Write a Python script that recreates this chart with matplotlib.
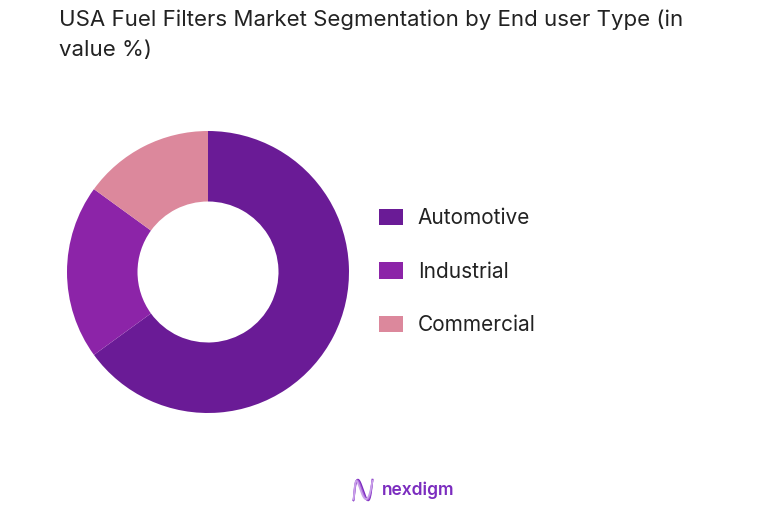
import numpy as np
import matplotlib
matplotlib.use("Agg")
import matplotlib.pyplot as plt
from matplotlib.patches import Patch

categories = ["Automotive", "Industrial", "Commercial"]
shares = [65, 20, 15]
colors = ["#6a1b96", "#8c24a8", "#dc889c"]
title = "USA Fuel Filters Market Segmentation by End user Type (in\nvalue %)"

W, H = 784, 511
fig = plt.figure(figsize=(W / 100, H / 100), dpi=100)
fig.patch.set_facecolor("white")
plt.rcParams["font.family"] = ["Inter", "DejaVu Sans"]

def fx(x):
    return x / W

def fy(y):
    return 1 - y / H

# donut
ax = fig.add_axes([fx(67), fy(413), 282 / W, 282 / H])
wedges, _ = ax.pie(shares, colors=colors, startangle=90, counterclock=False,
                   radius=1.0, wedgeprops=dict(width=0.5, linewidth=0))
ax.set_xlim(-1, 1)
ax.set_ylim(-1, 1)
ax.set_aspect("equal")
ax.axis("off")

# title
fig.text(fx(59), fy(10), title, ha="left", va="top", fontsize=16,
         color="#222222", linespacing=1.62)

# legend
handles = [Patch(facecolor=c, edgecolor="none") for c in colors]
leg = fig.legend(handles, categories, loc="upper left",
                 bbox_to_anchor=(fx(379), fy(208.5)), frameon=False,
                 fontsize=15, handlelength=1.15, handleheight=0.82,
                 handletextpad=0.72, labelspacing=1.6, borderaxespad=0,
                 borderpad=0)
for t in leg.get_texts():
    t.set_color("#222222")

# logo
lax = fig.add_axes([fx(352), fy(502), 22 / W, 24 / H])
tt = np.linspace(0, 1, 200)
for k, ph in enumerate([0.0, 0.06, 0.12]):
    xs = tt - 0.12 * np.sin(2 * np.pi * tt)
    ys = 0.5 + 0.5 * np.sin(3 * np.pi * tt - np.pi / 2 + ph * np.sin(np.pi * tt) * 6) * (1 - ph)
    lax.plot(xs, ys, color=["#7b2cbf", "#a45fd6", "#c9a0ea"][k], lw=1.3)
lax.set_xlim(-0.08, 1.08)
lax.set_ylim(-0.08, 1.08)
lax.axis("off")
fig.text(fx(382), fy(490), "nexdigm", ha="left", va="center", fontsize=12.5,
         fontweight="semibold", color="#7b2cbf")

fig.savefig("out.png", dpi=100, facecolor="white")
